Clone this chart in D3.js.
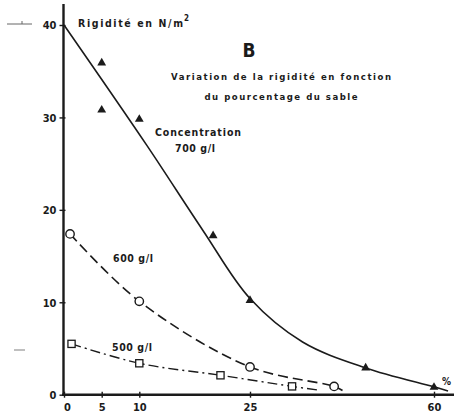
<!DOCTYPE html>
<html>
<head>
<meta charset="utf-8">
<script src="https://cdn.jsdelivr.net/npm/d3@7"></script>
<style>
  body { margin: 0; background: #fff; }
  svg text { font-family: "DejaVu Sans Condensed", "DejaVu Sans", sans-serif; font-weight: bold; fill: #1b1b1b; }
</style>
</head>
<body>
<svg id="chart" width="454" height="416"></svg>
<script>
// sand percentage (x) vs rigidity in N/m2 (y)
const xTicks = [0, 5, 10, 25, 60]
const yTicks = [0, 10, 20, 30, 40]

// measured points
const pts700 = [[5, 35.9], [5, 30.8], [10, 29.8], [20, 17.2], [25, 10.2], [47, 2.9], [60, 0.8]]
const pts600 = [[0.8, 17.4], [10, 10.1], [25, 3.0], [41, 0.9]]
const pts500 = [[1, 5.5], [10, 3.4], [21, 2.1], [33, 0.9]]

// hand drawn fitted curves
const fit700 = [[0, 40], [11, 27.0], [18.6, 17.8], [25, 10.4], [35, 5.7], [47, 2.9], [60, 0.85], [62.7, 0.4]]
const fit600 = [[0.8, 17.4], [10, 10.1], [25, 3.0], [41, 0.9], [42.6, 0.45]]
const fit500 = [[1, 5.5], [10, 3.4], [21, 2.1], [33, 0.9], [38, 0.5]]

const svg = d3.select("#chart")
svg.append("rect").attr("width", 454).attr("height", 416).attr("fill", "#fff")

// the original axis is not evenly graduated, so map it piecewise
const x = d3.scaleLinear().domain([0, 5, 10, 25, 60, 65]).range([64, 101.7, 139.3, 250, 434, 460])
const y = d3.scaleLinear().domain([0, 40]).range([394.7, 25])

const ink = "#1b1b1b"

// axes
svg.append("line").attr("x1", 63.5).attr("x2", 63.5).attr("y1", 4).attr("y2", 396)
  .attr("stroke", ink).attr("stroke-width", 2.4)
svg.append("line").attr("x1", 62).attr("x2", 454).attr("y1", y(0)).attr("y2", y(0))
  .attr("stroke", ink).attr("stroke-width", 2.4)

const yAxis = svg.append("g").attr("transform", "translate(63.5,0)")
  .call(d3.axisLeft(y).tickValues(yTicks).tickSize(4).tickPadding(3))
yAxis.select(".domain").remove()
yAxis.selectAll("line").attr("x1", 2).attr("x2", -4).attr("stroke", ink).attr("stroke-width", 1.4)
yAxis.selectAll("text").attr("font-size", 11).attr("dy", "0.35em").attr("fill", ink)
  .style("font-family", "'DejaVu Sans Condensed', sans-serif").style("font-weight", "bold")

const xAxis = svg.append("g").attr("transform", `translate(0,${y(0)})`)
  .call(d3.axisBottom(x).tickValues(xTicks).tickSize(3).tickPadding(6))
xAxis.select(".domain").remove()
xAxis.selectAll("line").attr("y1", -3).attr("y2", 3).attr("stroke", ink).attr("stroke-width", 1.4)
xAxis.selectAll("text").attr("font-size", 11).attr("fill", ink)
  .style("font-family", "'DejaVu Sans Condensed', sans-serif").style("font-weight", "bold")
xAxis.selectAll(".tick").filter(d => d === 0).select("text").attr("dx", 3)

// curves
const line = d3.line().x(d => x(d[0])).y(d => y(d[1])).curve(d3.curveCatmullRom.alpha(0.5))
svg.append("path").attr("d", line(fit700)).attr("fill", "none").attr("stroke", ink).attr("stroke-width", 1.6)
svg.append("path").attr("d", line(fit600)).attr("fill", "none").attr("stroke", ink).attr("stroke-width", 1.6)
  .attr("stroke-dasharray", "10,5")
svg.append("path").attr("d", line(fit500)).attr("fill", "none").attr("stroke", ink).attr("stroke-width", 1.4)
  .attr("stroke-dasharray", "10,4,2,4")

// markers
svg.selectAll(".tri").data(pts700).join("path").attr("class", "tri")
  .attr("d", d3.symbol(d3.symbolTriangle, 34))
  .attr("transform", d => `translate(${x(d[0])},${y(d[1])})`).attr("fill", ink)
svg.selectAll(".circ").data(pts600).join("circle").attr("class", "circ")
  .attr("cx", d => x(d[0])).attr("cy", d => y(d[1])).attr("r", 4.2)
  .attr("fill", "#fff").attr("stroke", ink).attr("stroke-width", 1.4)
svg.selectAll(".sq").data(pts500).join("rect").attr("class", "sq")
  .attr("x", d => x(d[0]) - 3.6).attr("y", d => y(d[1]) - 3.6).attr("width", 7.2).attr("height", 7.2)
  .attr("fill", "#fff").attr("stroke", ink).attr("stroke-width", 1.3)

// texts
function label(txt, cx, cy, size, len, anchor) {
  const t = svg.append("text").attr("x", cx).attr("y", cy).attr("dy", "0.35em")
    .attr("font-size", size).attr("text-anchor", anchor || "start").text(txt)
  if (len) t.attr("textLength", len).attr("lengthAdjust", "spacing")
  return t
}
label("Rigidité en N/m", 78, 23, 10.5, 105)
svg.append("text").attr("x", 184).attr("y", 18).attr("dy", "0.35em").attr("font-size", 8).text("2")

label("B", 249, 50, 19, null, "middle")
label("Variation de la rigidité en fonction", 281, 77, 9.5, 220, "middle")
label("du pourcentage du sable", 281, 97, 9.5, 153, "middle")
label("Concentration", 155, 132, 10.5, 86)
label("700 g/l", 175, 148, 10.5, 40)
label("600 g/l", 113, 258, 10.5, 40)
label("500 g/l", 112, 347, 10.5, 40)
// the axis unit runs off the scanned page on the right
label("% sable", 442, 381, 10, null)

// stray marks on the scanned page
svg.append("line").attr("x1", 7).attr("x2", 32).attr("y1", 24).attr("y2", 24).attr("stroke", "#666").attr("stroke-width", 1)
svg.append("line").attr("x1", 22).attr("x2", 22).attr("y1", 21).attr("y2", 24).attr("stroke", "#666").attr("stroke-width", 1)
svg.append("line").attr("x1", 14).attr("x2", 25).attr("y1", 350).attr("y2", 350).attr("stroke", "#aaa").attr("stroke-width", 1.5)
</script>
</body>
</html>
